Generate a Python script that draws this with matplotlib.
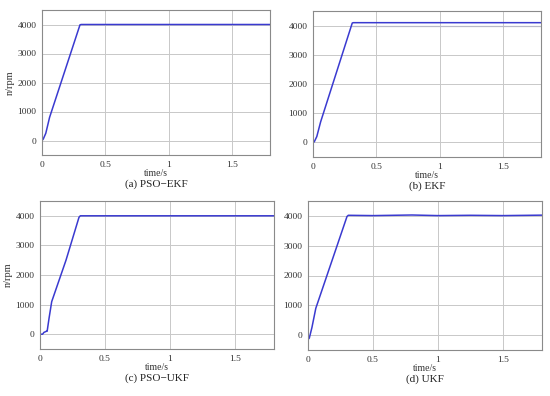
import numpy as np
import matplotlib
matplotlib.use("Agg")
import matplotlib.pyplot as plt

plt.rcParams['font.family'] = ['Liberation Serif', 'DejaVu Serif']

# speed curves (time in s, speed in rpm)
t_a = [0, 0.01, 0.03, 0.06, 0.30, 0.31, 1.8]
n_a = [0, 50, 250, 800, 3990, 4000, 4000]

t_b = [0, 0.01, 0.03, 0.06, 0.31, 0.32, 1.8]
n_b = [0, 20, 200, 700, 4090, 4100, 4100]
t_b_ref = [0.30, 1.8]
n_b_ref = [4000, 4000]

t_c = [0, 0.02, 0.03, 0.05, 0.055, 0.07, 0.09, 0.2, 0.30, 0.31, 1.8]
n_c = [0, 0, 60, 100, 100, 550, 1100, 2500, 3950, 4000, 4000]

t_d = [0, 0.01, 0.03, 0.06, 0.30, 0.31, 0.5, 0.8, 1.0, 1.25, 1.5, 1.8]
n_d = [-150, -100, 250, 900, 3980, 4020, 4010, 4030, 4010, 4020, 4010, 4025]

titles = ['(a) PSO\u2212EKF', '(b) EKF', '(c) PSO\u2212UKF', '(d) UKF']
xticks = [0, 0.5, 1, 1.5]
yticks = [0, 1000, 2000, 3000, 4000]

fig = plt.figure(figsize=(5.5, 3.96), dpi=100)
W, H = 550, 396
# axes boxes in pixels: left, top, right, bottom
boxes = [(42, 10, 270, 155), (313, 11, 541, 157),
         (40, 201, 274, 349), (308, 201, 542, 350)]
series = [(t_a, n_a), (t_b, n_b), (t_c, n_c), (t_d, n_d)]
blue = '#3a3ad0'

for i, (box, (t, n)) in enumerate(zip(boxes, series)):
    l, tp, r, b = box
    ax = fig.add_axes([l / W, 1 - b / H, (r - l) / W, (b - tp) / H])
    if i == 1:
        ax.plot(t_b_ref, n_b_ref, color='#b8b8c8', lw=0.9)
    ax.plot(t, n, color=blue, lw=1.1)
    ax.set_xlim(0, 1.8)
    ax.set_ylim(-500, 4500)
    ax.set_xticks(xticks)
    ax.set_xticklabels(['0', '0.5', '1', '1.5'])
    ax.set_yticks(yticks)
    ax.grid(True, color='#c8c8c8', lw=0.7)
    ax.tick_params(labelsize=6.8, length=0, pad=4, colors='#333333')
    for s in ax.spines.values():
        s.set_color('#8a8a8a')
        s.set_linewidth(0.8)
    ax.set_xlabel('time/s', fontsize=7, labelpad=0, color='#333333')
    if i % 2 == 0:
        ax.set_ylabel('n/rpm', fontsize=7.5, labelpad=2, color='#333333')
    fig.text((l + r) / 2 / W, 1 - (b + 29) / H, titles[i], ha='center',
             va='center', fontsize=8, color='#222222')

fig.savefig('out.png', dpi=100)
